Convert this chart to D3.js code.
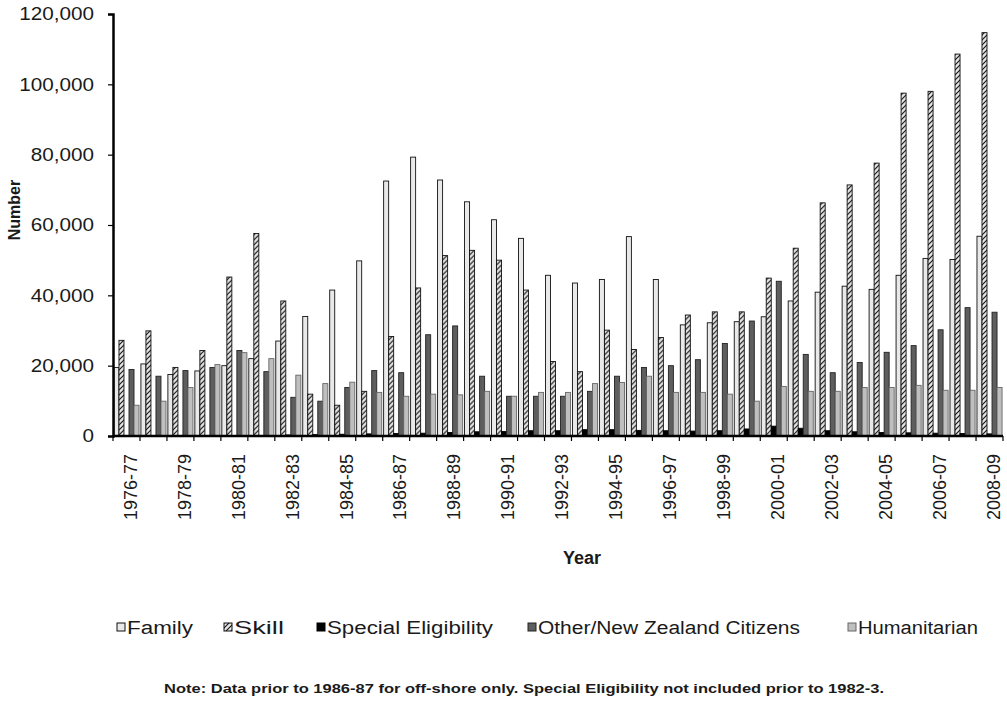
<!DOCTYPE html>
<html>
<head>
<meta charset="utf-8">
<script src="https://cdn.jsdelivr.net/npm/d3@7"></script>
<style>
  html, body { margin: 0; padding: 0; background: #fff; }
  svg { display: block; font-family: "Liberation Sans", Arial, sans-serif; }
</style>
</head>
<body>
<svg id="chart" width="1007" height="702"></svg>
<script>
// Approvals by stream, financial years 1976-77 to 2008-09
const years = [
  "1976-77","1977-78","1978-79","1979-80","1980-81","1981-82","1982-83","1983-84",
  "1984-85","1985-86","1986-87","1987-88","1988-89","1989-90","1990-91","1991-92",
  "1992-93","1993-94","1994-95","1995-96","1996-97","1997-98","1998-99","1999-00",
  "2000-01","2001-02","2002-03","2003-04","2004-05","2005-06","2006-07","2007-08","2008-09"
];
const tickYears = years.filter((d, i) => i % 2 === 0);

const family = [19500,20500,17500,18500,20000,22000,27000,34000,41500,49800,72500,79300,
  72800,66600,61500,56200,45700,43500,44500,56700,44500,31600,32200,32500,33900,38400,
  40900,42600,41700,45700,50500,50200,56800];
const skill = [27200,29900,19500,24300,45200,57600,38400,11900,8750,12700,28300,42100,
  51300,52800,50000,41500,21200,18300,30100,24600,28000,34400,35300,35300,44900,53400,
  66300,71400,77600,97500,98000,108600,114700];
const specialEligibility = [0,0,0,0,0,0,300,400,500,600,700,800,1000,1200,1300,1500,
  1500,1800,1800,1600,1500,1400,1500,2000,2800,2200,1500,1200,1000,900,800,700,600];
const otherNZ = [18900,17000,18600,19500,24300,18300,11000,9900,13800,18600,18000,28800,
  31300,17000,11300,11300,11300,12700,17000,19500,20000,21700,26300,32700,44000,23200,
  18000,20900,23800,25700,30200,36500,35200];
const humanitarian = [8750,9900,13800,20300,23700,22000,17300,14900,15300,12400,11300,
  11900,11700,12700,11300,12400,12400,14900,15200,17000,12400,12400,11900,9900,14100,
  12700,12700,13800,13800,14400,13000,13000,13800];

const seriesNames = ["Family", "Skill", "Special Eligibility", "Other/New Zealand  Citizens", "Humanitarian"];
const seriesValues = [family, skill, specialEligibility, otherNZ, humanitarian];
const yTicks = [0, 20000, 40000, 60000, 80000, 100000, 120000];

const svg = d3.select("#chart");
const plotLeft = 113, plotRight = 1003, plotTop = 14, plotBottom = 436;

// hatch used for the Skill stream
const defs = svg.append("defs");
const hatch = defs.append("pattern")
  .attr("id", "hatch").attr("patternUnits", "userSpaceOnUse")
  .attr("width", 5).attr("height", 5);
hatch.append("rect").attr("width", 5).attr("height", 5).attr("fill", "#e4e4e4");
hatch.append("path").attr("d", "M0,5 L5,0 M-1,1 L1,-1 M4,6 L6,4")
  .attr("stroke", "#111").attr("stroke-width", 1.1);

const fills = ["#e9e9e9", "url(#hatch)", "#000", "#5e5e5e", "#bfbfbf"];
const strokes = ["#111", "#111", "#000", "#222", "#666"];

const x = d3.scaleBand().domain(years).range([plotLeft, plotRight]).paddingInner(0.07).paddingOuter(0.035);
const xs = d3.scaleBand().domain(d3.range(5)).range([0, x.bandwidth()]).padding(0);
const y = d3.scaleLinear().domain([0, 120000]).range([plotBottom, plotTop]);

// bars
const groups = svg.append("g").selectAll("g")
  .data(years).join("g")
  .attr("transform", d => `translate(${x(d)},0)`);

groups.selectAll("rect")
  .data((d, i) => seriesValues.map((vals, s) => ({ s, v: vals[i] })).filter(e => e.v > 0))
  .join("rect")
  .attr("x", d => xs(d.s))
  .attr("width", xs.bandwidth())
  .attr("y", d => y(d.v))
  .attr("height", d => plotBottom - y(d.v))
  .attr("fill", d => fills[d.s])
  .attr("stroke", d => strokes[d.s])
  .attr("stroke-width", 0.9);

// y axis (labels drawn slightly wide)
const labelStretch = 1.15;
const yAxis = svg.append("g")
  .attr("transform", `translate(${plotLeft},0)`)
  .call(d3.axisLeft(y).tickValues(yTicks).tickFormat(d3.format(",")).tickSize(5).tickPadding(12));
yAxis.select(".domain").attr("stroke", "#000").attr("stroke-width", 2.5);
yAxis.selectAll(".tick line").attr("stroke", "#000").attr("stroke-width", 1.2);
yAxis.selectAll(".tick text")
  .attr("font-size", 18).attr("fill", "#1a1a1a")
  .attr("font-family", "Liberation Sans, Arial, sans-serif")
  .attr("x", -19 / labelStretch)
  .attr("transform", `scale(${labelStretch},1)`);

// x axis: a tick between every year, labels on alternate years
const xAxisG = svg.append("g").attr("transform", `translate(0,${plotBottom})`);
xAxisG.append("line").attr("x1", plotLeft).attr("x2", plotRight).attr("stroke", "#000").attr("stroke-width", 2.5);
const step = x.step();
const boundaries = d3.range(years.length + 1).map(i => plotLeft + x.paddingOuter() * step - x.paddingInner() * step / 2 + i * step);
xAxisG.selectAll(".xt").data(boundaries).join("line")
  .attr("class", "xt")
  .attr("x1", d => d).attr("x2", d => d).attr("y1", 0).attr("y2", 5)
  .attr("stroke", "#000").attr("stroke-width", 1.2);
xAxisG.selectAll(".xl").data(tickYears).join("text")
  .attr("class", "xl")
  .attr("transform", d => `translate(${x(d) + x.bandwidth() / 2 + 4},18) rotate(-90)`)
  .attr("text-anchor", "end")
  .attr("dy", "0.35em")
  .attr("font-size", 18)
  .attr("fill", "#1a1a1a")
  .text(d => d);

// axis titles
svg.append("text")
  .attr("transform", "translate(20,210) rotate(-90)")
  .attr("text-anchor", "middle")
  .attr("font-size", 16).attr("font-weight", "bold").attr("fill", "#1a1a1a")
  .text("Number");
svg.append("text")
  .attr("x", 582).attr("y", 564)
  .attr("text-anchor", "middle")
  .attr("font-size", 18).attr("font-weight", "bold").attr("fill", "#1a1a1a")
  .text("Year");

// legend: swatch position and text width for each entry
const legendX = [117, 224, 317, 528, 848];
const legendTextWidth = [66, 50, 166, 262, 120];
const legend = svg.append("g").selectAll("g")
  .data(seriesNames).join("g")
  .attr("transform", (d, i) => `translate(${legendX[i]},628)`);
legend.append("rect")
  .attr("x", 0).attr("y", -5).attr("width", 8).attr("height", 8)
  .attr("fill", (d, i) => fills[i]).attr("stroke", (d, i) => strokes[i]).attr("stroke-width", 1);
legend.append("text")
  .attr("x", 10).attr("y", 0).attr("dy", "0.35em")
  .attr("font-size", 18).attr("fill", "#1a1a1a")
  .attr("textLength", (d, i) => legendTextWidth[i])
  .attr("lengthAdjust", "spacingAndGlyphs")
  .text(d => d);

// footnote
svg.append("text")
  .attr("x", 164).attr("y", 693)
  .attr("font-size", 12.5).attr("font-weight", "bold")
  .attr("textLength", 720).attr("lengthAdjust", "spacingAndGlyphs")
  .attr("fill", "#1a1a1a")
  .text("Note: Data prior to 1986-87 for off-shore only. Special Eligibility not included prior to 1982-3.");
</script>
</body>
</html>
